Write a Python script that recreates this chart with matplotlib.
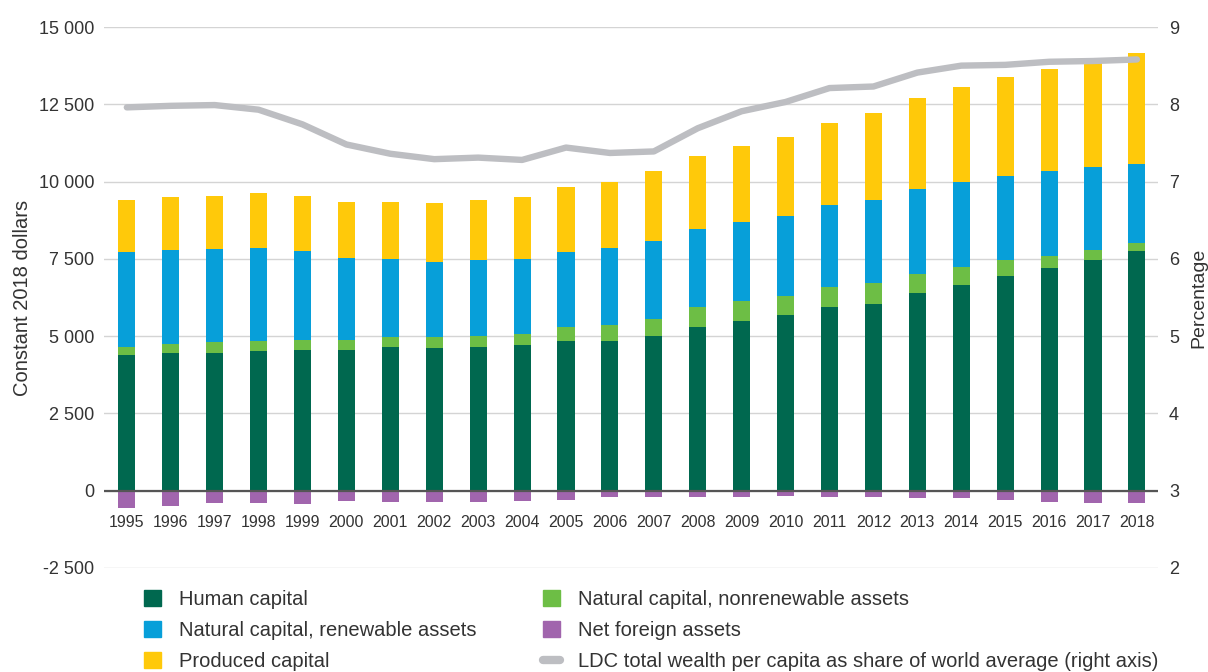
import matplotlib
matplotlib.use('Agg')
import matplotlib.pyplot as plt
from matplotlib.patches import Patch
from matplotlib.lines import Line2D
from matplotlib.ticker import FuncFormatter, FixedLocator
import numpy as np

plt.rcParams['font.family'] = ['Liberation Sans', 'DejaVu Sans']

years = [str(y) for y in range(1995, 2019)]
human = [4380, 4440, 4470, 4530, 4550, 4560, 4640, 4630, 4660, 4700, 4830, 4830,
         4990, 5300, 5480, 5670, 5930, 6050, 6400, 6650, 6960, 7200, 7460, 7740]
nonrenewable = [270, 320, 335, 325, 310, 300, 325, 335, 360, 385, 455, 540,
                575, 645, 645, 635, 660, 670, 620, 585, 490, 385, 325, 260]
renewable = [3075, 3040, 3000, 3000, 2880, 2665, 2535, 2440, 2450, 2415, 2450, 2475,
             2525, 2535, 2570, 2570, 2665, 2690, 2725, 2740, 2725, 2750, 2690, 2560]
produced = [1685, 1710, 1720, 1770, 1795, 1820, 1840, 1890, 1940, 2010, 2080, 2155,
            2250, 2355, 2465, 2570, 2655, 2800, 2945, 3085, 3205, 3300, 3455, 3615]
net_foreign = [-575, -500, -385, -405, -420, -335, -370, -370, -360, -335, -285, -215,
               -205, -205, -205, -180, -190, -215, -225, -250, -310, -370, -395, -405]
share_pct = [7.96, 7.98, 7.99, 7.93, 7.74, 7.48, 7.36, 7.29, 7.31, 7.28, 7.44, 7.37,
             7.39, 7.69, 7.91, 8.03, 8.21, 8.23, 8.41, 8.50, 8.51, 8.55, 8.56, 8.58]

labels = ['Human capital', 'Natural capital, nonrenewable assets',
          'Natural capital, renewable assets', 'Net foreign assets',
          'Produced capital', 'LDC total wealth per capita as share of world average (right axis)']

c_human = '#00684f'
c_nonren = '#6dbe45'
c_ren = '#079fd9'
c_prod = '#ffc90a'
c_nfa = '#a165ad'
c_line = '#bdbec2'
txt = '#333333'

fig = plt.figure(figsize=(12.08, 6.72), dpi=100)
ax = fig.add_axes([104/1208, 1-568/672, (1158-104)/1208, (568-27)/672])

x = np.arange(len(years))
w = 0.39
h = np.array(human)
n = np.array(nonrenewable)
r = np.array(renewable)
p = np.array(produced)
ax.bar(x, h, w, color=c_human, zorder=3)
ax.bar(x, n, w, bottom=h, color=c_nonren, zorder=3)
ax.bar(x, r, w, bottom=h + n, color=c_ren, zorder=3)
ax.bar(x, p, w, bottom=h + n + r, color=c_prod, zorder=3)
ax.bar(x, net_foreign, w, color=c_nfa, zorder=3)

ax.set_xlim(-0.52, len(years) - 0.52)
ax.set_ylim(-2500, 15000)
ax.yaxis.set_major_locator(FixedLocator(np.arange(-2500, 15001, 2500)))
ax.yaxis.set_major_formatter(FuncFormatter(lambda v, pos: f"{int(round(v)):,}".replace(',', ' ')))
ax.grid(axis='y', color='#d4d4d4', linewidth=1.0, zorder=0)
ax.axhline(0, color='#555555', linewidth=1.6, zorder=4)
for s in ax.spines.values():
    s.set_visible(False)
ax.tick_params(axis='y', length=0, pad=7, labelsize=13, labelcolor=txt)
ax.set_xticks(x)
ax.set_xticklabels(years)
ax.tick_params(axis='x', length=0, pad=-38, labelsize=11.5, labelcolor=txt)
ax.set_ylabel('Constant 2018 dollars', fontsize=14.5, color=txt, labelpad=5)

ax2 = ax.twinx()
ax2.set_position(ax.get_position())
ax2.plot(x, share_pct, color=c_line, linewidth=4.6, solid_capstyle='round',
         solid_joinstyle='round', zorder=5)
ax2.set_ylim(2, 9)
ax2.set_yticks(np.arange(2, 10, 1))
for s in ax2.spines.values():
    s.set_visible(False)
ax2.tick_params(axis='y', length=0, pad=8, labelsize=13, labelcolor=txt)
ax2.set_ylabel('Percentage', fontsize=14, color=txt, labelpad=8)

handles = [Patch(color=c_human), Patch(color=c_ren), Patch(color=c_prod),
           Patch(color=c_nonren), Patch(color=c_nfa),
           Line2D([0], [0], color=c_line, linewidth=6, solid_capstyle='round')]
leg_labels = [labels[0], labels[2], labels[4], labels[1], labels[3], labels[5]]
leg = fig.legend(handles, leg_labels, ncol=2, loc='upper left',
                 bbox_to_anchor=(144/1208, 1-590/672), frameon=False,
                 fontsize=14.5, handlelength=0.85, handleheight=0.85,
                 handletextpad=0.9, labelspacing=0.6, columnspacing=3.3,
                 borderaxespad=0, borderpad=0)
for t in leg.get_texts():
    t.set_color(txt)

fig.savefig('out.png', dpi=100)
